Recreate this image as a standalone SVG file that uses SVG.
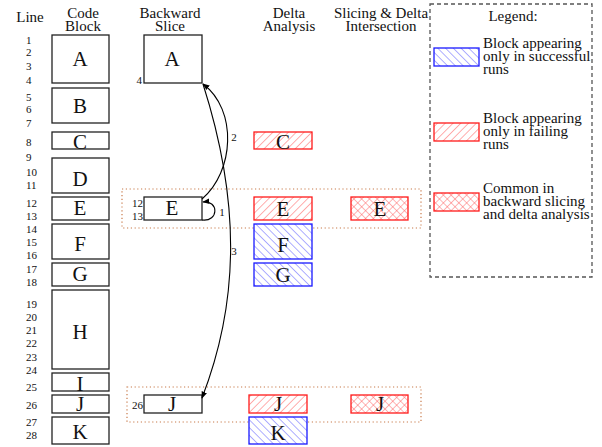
<svg xmlns="http://www.w3.org/2000/svg" width="602" height="447" viewBox="0 0 602 447">
  <defs>
    <pattern id="hatch-red" patternUnits="userSpaceOnUse" width="5.5" height="5.5" patternTransform="rotate(45)">
      <rect width="5.5" height="5.5" fill="#fff"/>
      <line x1="0" y1="0" x2="0" y2="5.5" stroke="#ff4a4a" stroke-width="0.9"/>
    </pattern>
    <pattern id="hatch-blue" patternUnits="userSpaceOnUse" width="5.5" height="5.5" patternTransform="rotate(-45)">
      <rect width="5.5" height="5.5" fill="#fff"/>
      <line x1="0" y1="0" x2="0" y2="5.5" stroke="#4a4aff" stroke-width="0.9"/>
    </pattern>
    <pattern id="cross-red" patternUnits="userSpaceOnUse" width="5.5" height="5.5" patternTransform="rotate(45)">
      <rect width="5.5" height="5.5" fill="#fff"/>
      <line x1="0" y1="0" x2="0" y2="5.5" stroke="#ff5a5a" stroke-width="0.9"/>
      <line x1="0" y1="0" x2="5.5" y2="0" stroke="#ff5a5a" stroke-width="0.9"/>
    </pattern>
    <marker id="arrow" viewBox="0 0 10 10" refX="9" refY="5" markerWidth="7" markerHeight="7" orient="auto" markerUnits="userSpaceOnUse">
      <path d="M0,1 L10,5 L0,9 z" fill="#000"/>
    </marker>
  </defs>
  <style>
    text { font-family: "Liberation Serif", "Times New Roman", serif; fill: #111; }
    .hdr { font-size: 15px; text-anchor: middle; }
    .num { font-size: 11px; }
    .numr { font-size: 11px; text-anchor: end; }
    .blk { font-size: 21px; text-anchor: middle; }
    .leg { font-size: 15px; }
    .box { fill: #fff; stroke: #222; stroke-width: 1.3; }
    .fail { fill: url(#hatch-red); stroke: #ff1a1a; stroke-width: 1.3; }
    .pass { fill: url(#hatch-blue); stroke: #1a1aff; stroke-width: 1.3; }
    .both { fill: url(#cross-red); stroke: #ff1a1a; stroke-width: 1.3; }
    .band { fill: none; stroke: #c87a4a; stroke-width: 1.2; stroke-dasharray: 1.2 2.6; }
    .edge { fill: none; stroke: #000; stroke-width: 1.1; marker-end: url(#arrow); }
    .elabel { font-size: 11px; text-anchor: middle; }
  </style>

  <rect width="602" height="447" fill="#fff"/>

  <!-- column headers -->
  <g id="headers">
    <text class="hdr" x="30" y="22">Line</text>
    <text class="hdr" x="83" y="18">Code</text>
    <text class="hdr" x="83" y="31">Block</text>
    <text class="hdr" x="170" y="18">Backward</text>
    <text class="hdr" x="170" y="31">Slice</text>
    <text class="hdr" x="289" y="18">Delta</text>
    <text class="hdr" x="289" y="31">Analysis</text>
    <text class="hdr" x="381" y="18">Slicing &amp; Delta</text>
    <text class="hdr" x="381" y="31">Intersection</text>
  </g>

  <!-- rows shared by slicing and delta results -->
  <g id="bands">
    <rect class="band" x="122" y="189" width="299" height="39"/>
    <rect class="band" x="127" y="387" width="294" height="35"/>
  </g>

  <!-- line numbers -->
  <g id="line-numbers">
    <text class="num" x="26" y="44">1</text>
    <text class="num" x="26" y="56">2</text>
    <text class="num" x="26" y="70">3</text>
    <text class="num" x="26" y="84">4</text>
    <text class="num" x="26" y="101">5</text>
    <text class="num" x="26" y="113">6</text>
    <text class="num" x="26" y="127">7</text>
    <text class="num" x="26" y="146">8</text>
    <text class="num" x="26" y="161">9</text>
    <text class="num" x="26" y="176">10</text>
    <text class="num" x="26" y="189">11</text>
    <text class="num" x="26" y="207">12</text>
    <text class="num" x="26" y="220">13</text>
    <text class="num" x="26" y="233">14</text>
    <text class="num" x="26" y="246">15</text>
    <text class="num" x="26" y="259">16</text>
    <text class="num" x="26" y="273">17</text>
    <text class="num" x="26" y="286">18</text>
    <text class="num" x="26" y="308">19</text>
    <text class="num" x="26" y="321">20</text>
    <text class="num" x="26" y="334">21</text>
    <text class="num" x="26" y="347">22</text>
    <text class="num" x="26" y="361">23</text>
    <text class="num" x="26" y="374">24</text>
    <text class="num" x="26" y="391">25</text>
    <text class="num" x="26" y="409">26</text>
    <text class="num" x="26" y="426">27</text>
    <text class="num" x="26" y="439">28</text>
  </g>

  <!-- code blocks -->
  <g id="code-A"><rect class="box" x="52" y="35" width="57" height="48"/><text class="blk" x="80" y="66">A</text></g>
  <g id="code-B"><rect class="box" x="52" y="88" width="57" height="35"/><text class="blk" x="80" y="113">B</text></g>
  <g id="code-C"><rect class="box" x="52" y="132" width="57" height="17"/><text class="blk" x="80" y="149">C</text></g>
  <g id="code-D"><rect class="box" x="52" y="158" width="57" height="35"/><text class="blk" x="80" y="186">D</text></g>
  <g id="code-E"><rect class="box" x="52" y="197" width="57" height="23"/><text class="blk" x="80" y="215">E</text></g>
  <g id="code-F"><rect class="box" x="52" y="224" width="57" height="35"/><text class="blk" x="80" y="251">F</text></g>
  <g id="code-G"><rect class="box" x="52" y="263" width="57" height="23"/><text class="blk" x="80" y="281">G</text></g>
  <g id="code-H"><rect class="box" x="52" y="290" width="57" height="79"/><text class="blk" x="80" y="339">H</text></g>
  <g id="code-I"><rect class="box" x="52" y="373" width="57" height="18"/><text class="blk" x="80" y="391">I</text></g>
  <g id="code-J"><rect class="box" x="52" y="395" width="57" height="18"/><text class="blk" x="80" y="411">J</text></g>
  <g id="code-K"><rect class="box" x="52" y="417" width="57" height="27"/><text class="blk" x="80" y="439">K</text></g>

  <!-- backward slice -->
  <g id="slice-A"><rect class="box" x="144" y="35" width="58" height="48"/><text class="blk" x="172" y="66">A</text><text class="numr" x="142" y="84">4</text></g>
  <g id="slice-E"><rect class="box" x="144" y="197" width="58" height="23"/><text class="blk" x="172" y="215">E</text><text class="numr" x="143" y="207">12</text><text class="numr" x="143" y="220">13</text></g>
  <g id="slice-J"><rect class="box" x="144" y="395" width="58" height="18"/><text class="blk" x="172" y="411">J</text><text class="numr" x="143" y="409">26</text></g>

  <!-- delta analysis -->
  <g id="delta-C"><rect class="fail" x="254" y="132" width="58" height="17"/><text class="blk" x="283" y="149">C</text></g>
  <g id="delta-E"><rect class="fail" x="254" y="197" width="58" height="23"/><text class="blk" x="283" y="216">E</text></g>
  <g id="delta-F"><rect class="pass" x="254" y="224" width="58" height="35"/><text class="blk" x="283" y="252">F</text></g>
  <g id="delta-G"><rect class="pass" x="254" y="263" width="58" height="23"/><text class="blk" x="283" y="282">G</text></g>
  <g id="delta-J"><rect class="fail" x="249" y="395" width="58" height="18"/><text class="blk" x="278" y="411">J</text></g>
  <g id="delta-K"><rect class="pass" x="249" y="417" width="58" height="27"/><text class="blk" x="278" y="440">K</text></g>

  <!-- intersection -->
  <g id="both-E"><rect class="both" x="351" y="197" width="57" height="23"/><text class="blk" x="380" y="216">E</text></g>
  <g id="both-J"><rect class="both" x="351" y="395" width="57" height="18"/><text class="blk" x="380" y="411">J</text></g>

  <!-- dependence edges -->
  <g id="connectors">
    <path class="edge" d="M202,220 C219,222 219,200 203,202"/>
    <path class="edge" d="M202,199 C234,172 238,110 203,84"/>
    <path class="edge" d="M203,84 C240,200 240,300 202,398"/>
    <text class="elabel" x="222" y="216">1</text>
    <text class="elabel" x="234" y="141">2</text>
    <text class="elabel" x="234" y="255">3</text>
  </g>

  <!-- legend -->
  <g id="legend">
    <rect x="430" y="4" width="162" height="273" fill="none" stroke="#555" stroke-width="1.3" stroke-dasharray="4 3"/>
    <text class="leg" x="513" y="21" text-anchor="middle">Legend:</text>
    <rect class="pass" x="434" y="48" width="45" height="18"/>
    <text class="leg" x="483" y="48">Block appearing</text>
    <text class="leg" x="483" y="61">only in successful</text>
    <text class="leg" x="483" y="74">runs</text>
    <rect class="fail" x="434" y="123" width="45" height="18"/>
    <text class="leg" x="483" y="123">Block appearing</text>
    <text class="leg" x="483" y="136">only in failing</text>
    <text class="leg" x="483" y="149">runs</text>
    <rect class="both" x="434" y="193" width="45" height="18"/>
    <text class="leg" x="483" y="193">Common in</text>
    <text class="leg" x="483" y="206">backward slicing</text>
    <text class="leg" x="483" y="219">and delta analysis</text>
  </g>
</svg>
